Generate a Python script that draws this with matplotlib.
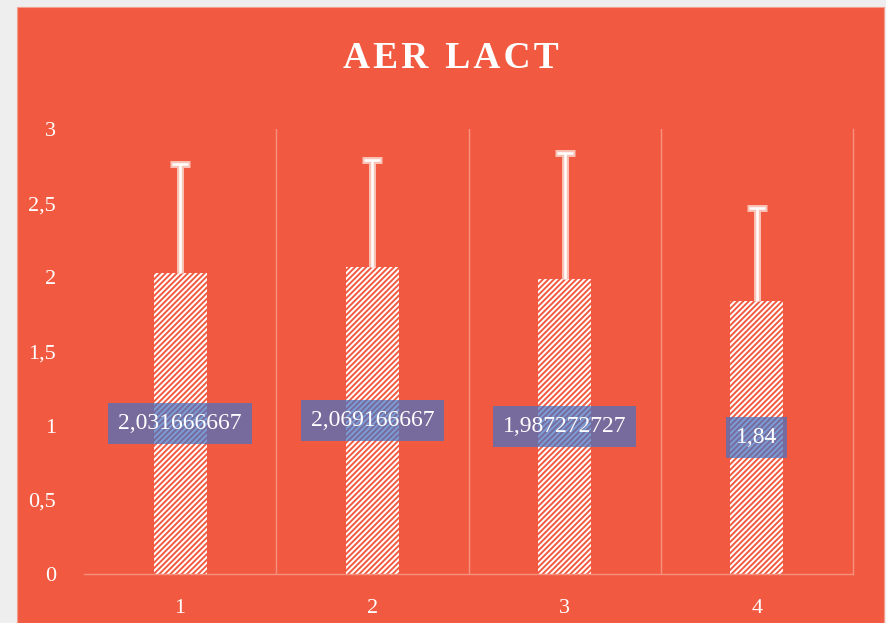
import matplotlib
matplotlib.use("Agg")
import matplotlib.pyplot as plt
from matplotlib.patches import Rectangle

# group means and upper deviations
groups = ["1", "2", "3", "4"]
means = [2.031666667, 2.069166667, 1.987272727, 1.84]
errors = [0.73, 0.72, 0.85, 0.63]
value_labels = ["2,031666667", "2,069166667", "1,987272727", "1,84"]
y_ticks = [0, 0.5, 1, 1.5, 2, 2.5, 3]
y_tick_labels = ["0", "0,5", "1", "1,5", "2", "2,5", "3"]

BG = "#f15a40"
plt.rcParams["font.family"] = ["Liberation Serif", "DejaVu Serif"]
plt.rcParams["hatch.linewidth"] = 1.4

fig = plt.figure(figsize=(8.86, 6.23), dpi=100, facecolor="#eeeeee")
W, H = 886, 623
panel = Rectangle((17 / W, 0), (884 - 17) / W, (H - 7) / H,
                  transform=fig.transFigure, facecolor=BG,
                  edgecolor="#f4a090", linewidth=0.8, zorder=-1)
fig.patches.append(panel)

ax = fig.add_axes([84 / W, 1 - 574 / H, (853 - 84) / W, (574 - 129) / H])
ax.set_zorder(1)
ax.set_facecolor(BG)
x = list(range(len(groups)))

ax.bar(x, means, width=0.275, color="white", edgecolor=BG, linewidth=0,
       hatch="//////", zorder=2)

# soft halo behind the white error bars, upper side only
for color, lw, cap in [("#f9c3b8", 5, 7), ("white", 1.8, 6)]:
    eb = ax.errorbar(x, means, yerr=[[0] * 4, errors], fmt="none", ecolor=color,
                     elinewidth=lw, capsize=cap, capthick=lw, zorder=3 if lw > 2 else 4)
    eb[1][0].set_visible(False)

for xi, m, lab in zip(x, means, value_labels):
    ax.text(xi, m / 2, lab, ha="center", va="center", color="white", fontsize=17,
            zorder=5,
            bbox=dict(boxstyle="square,pad=0.42", facecolor="#4472c4", alpha=0.7,
                      edgecolor="none"))

ax.set_xlim(-0.5, 3.5)
ax.set_ylim(0, 3)
for b in [0.5, 1.5, 2.5]:
    ax.axvline(b, color="#f7907e", linewidth=1, zorder=1)

for s in ["top", "left"]:
    ax.spines[s].set_visible(False)
for s in ["bottom", "right"]:
    ax.spines[s].set_color("#f7907e")
    ax.spines[s].set_linewidth(1)

ax.set_xticks(x)
ax.set_xticklabels(groups)
ax.set_yticks(y_ticks)
ax.set_yticklabels(y_tick_labels)
ax.tick_params(axis="both", length=0, colors="white", labelsize=16)
ax.tick_params(axis="x", pad=18)
ax.tick_params(axis="y", pad=20)

fig.text(451 / W, 1 - 59 / H, "A\u200aE\u200aR\u2009 L\u200aA\u200aC\u200aT",
         ha="center", va="center", color="white", fontsize=27, fontweight="bold")

fig.savefig("out.png", dpi=100, facecolor=fig.get_facecolor())
